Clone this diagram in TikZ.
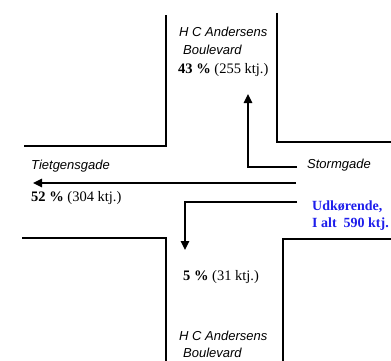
\documentclass[tikz,border=0pt]{standalone}
\usepackage{fontspec}
\setmainfont{Liberation Serif}
\newfontfamily\gadefont{Liberation Sans}
\usetikzlibrary{arrows.meta}

\definecolor{udblaa}{RGB}{30,30,235}

\begin{document}
\begin{tikzpicture}[x=1pt, y=-1pt,
  vej/.style={draw=black, line width=2.3pt},
  strom/.style={draw=black, line width=1.3pt, -{Triangle[length=9pt,width=8.5pt]}},
  gade/.style={anchor=base west, inner sep=0pt, font=\gadefont\itshape\fontsize{13}{15}\selectfont},
  andel/.style={anchor=base west, inner sep=0pt, font=\fontsize{14.5}{16}\selectfont},
  udkoer/.style={anchor=base west, inner sep=0pt, text=udblaa, font=\bfseries\fontsize{14}{16}\selectfont}]
  \useasboundingbox (0,0) rectangle (391,361);

  % vejkanter
  \draw[vej] (24,146) -- (166,146) -- (166,15);
  \draw[vej] (277,13) -- (277,142) -- (391,142);
  \draw[vej] (22,238) -- (166,238) -- (166,361);
  \draw[vej] (391,239) -- (283,239) -- (283,361);

  % gadenavne
  \node[gade] (nordA) at (179,36.5) {H C Andersens};
  \node[gade] (nordB) at (183,55) {Boulevard};
  \node[gade] (vest) at (31,169) {Tietgensgade};
  \node[gade] (oest) at (307,168) {Stormgade};
  \node[gade] (sydA) at (179,340) {H C Andersens};
  \node[gade] (sydB) at (183,357) {Boulevard};

  % fordeling
  \node[andel] (nordP) at (178,74) {\textbf{43 \%} (255 ktj.)};
  \node[andel] (vestP) at (31,201) {\textbf{52 \%} (304 ktj.)};
  \node[andel] (sydP) at (183,280) {\textbf{5 \%} (31 ktj.)};
  \node[udkoer] (udA) at (312,210.5) {Udkørende,};
  \node[udkoer] (udB) at (312,227) {I alt\ \ 590 ktj.};

  % strømme
  \coordinate (s1) at (297,167);
  \coordinate (n1) at (248,94);
  \coordinate (s2) at (296,183);
  \coordinate (v1) at (33,183);
  \coordinate (s3) at (297,202);
  \coordinate (sy1) at (185,250);

  \draw[strom] (s1) -| (n1);
  \draw[strom] (s2) -- (v1);
  \draw[strom] (s3) -| (sy1);
\end{tikzpicture}
\end{document}
